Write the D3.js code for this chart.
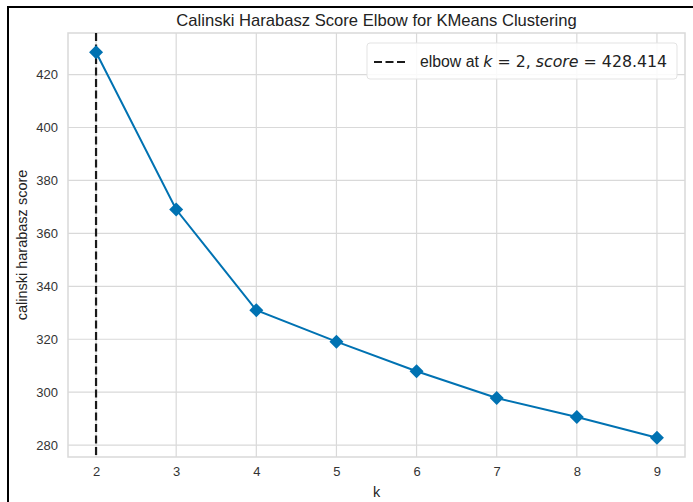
<!DOCTYPE html>
<html>
<head>
<meta charset="utf-8">
<script src="https://cdn.jsdelivr.net/npm/d3@7"></script>
<style>
  html, body { margin: 0; padding: 0; background: #fff; }
  svg { display: block; }
</style>
</head>
<body>
<svg id="chart" width="693" height="502"></svg>
<script>
// Calinski-Harabasz score for each number of clusters k
const kValues = [2, 3, 4, 5, 6, 7, 8, 9];
const scores = [428.414, 369.0, 331.0, 319.1, 307.9, 297.8, 290.6, 282.8];
const xTicks = [2, 3, 4, 5, 6, 7, 8, 9];
const yTicks = [280, 300, 320, 340, 360, 380, 400, 420];
const elbowK = 2;
const elbowScore = 428.414;

const svg = d3.select("#chart");
const W = 693, H = 502;
const plot = { left: 68, right: 685, top: 33, bottom: 457 };

// frame lines along the top and left edge of the figure
svg.append("line").attr("x1", 8).attr("x2", W).attr("y1", 7).attr("y2", 7)
  .attr("stroke", "#000").attr("stroke-width", 2);
svg.append("line").attr("x1", 8).attr("x2", 8).attr("y1", 6).attr("y2", H)
  .attr("stroke", "#000").attr("stroke-width", 2);

// axis domains with 5% padding
const xr = d3.extent(kValues), xpad = (xr[1] - xr[0]) * 0.05;
const yr = d3.extent(scores), ypad = (yr[1] - yr[0]) * 0.05;
const x = d3.scaleLinear().domain([xr[0] - xpad, xr[1] + xpad]).range([plot.left, plot.right]);
const y = d3.scaleLinear().domain([yr[0] - ypad, yr[1] + ypad]).range([plot.bottom, plot.top]);

const gridColor = "#d9d9d9";
const tickFont = "'Liberation Sans', Arial, sans-serif";

// grid
const grid = svg.append("g");
grid.selectAll("line.vx").data(xTicks).join("line")
  .attr("x1", d => x(d)).attr("x2", d => x(d))
  .attr("y1", plot.top).attr("y2", plot.bottom)
  .attr("stroke", gridColor).attr("stroke-width", 1.2);
grid.selectAll("line.hy").data(yTicks).join("line")
  .attr("x1", plot.left).attr("x2", plot.right)
  .attr("y1", d => y(d)).attr("y2", d => y(d))
  .attr("stroke", gridColor).attr("stroke-width", 1.2);

// spines
svg.append("rect")
  .attr("x", plot.left).attr("y", plot.top)
  .attr("width", plot.right - plot.left).attr("height", plot.bottom - plot.top)
  .attr("fill", "none").attr("stroke", gridColor).attr("stroke-width", 1.5);

// axes (labels only, no tick marks)
const xAxis = svg.append("g")
  .attr("transform", `translate(0,${plot.bottom})`)
  .call(d3.axisBottom(x).tickValues(xTicks).tickFormat(d3.format("d")).tickSize(0).tickPadding(10));
const yAxis = svg.append("g")
  .attr("transform", `translate(${plot.left},0)`)
  .call(d3.axisLeft(y).tickValues(yTicks).tickFormat(d3.format("d")).tickSize(0).tickPadding(10));
[xAxis, yAxis].forEach(g => {
  g.select(".domain").remove();
  g.selectAll("text").attr("font-family", tickFont).attr("font-size", 13).attr("fill", "#333");
});

// elbow marker
svg.append("line")
  .attr("x1", x(elbowK)).attr("x2", x(elbowK))
  .attr("y1", plot.top).attr("y2", plot.bottom)
  .attr("stroke", "#1a1a1a").attr("stroke-width", 2.2)
  .attr("stroke-dasharray", "8,3.5");

// score curve
const pts = kValues.map((k, i) => [k, scores[i]]);
svg.append("path")
  .datum(pts)
  .attr("d", d3.line().x(d => x(d[0])).y(d => y(d[1])))
  .attr("fill", "none").attr("stroke", "#0072B2").attr("stroke-width", 2);
svg.selectAll("path.mk").data(pts).join("path")
  .attr("class", "mk")
  .attr("transform", d => `translate(${x(d[0])},${y(d[1])})`)
  .attr("d", "M0,-7L7,0L0,7L-7,0Z")
  .attr("fill", "#0072B2");

// title and axis labels
svg.append("text")
  .attr("x", (plot.left + plot.right) / 2).attr("y", 26)
  .attr("text-anchor", "middle")
  .attr("font-family", tickFont).attr("font-size", 16.6).attr("fill", "#222")
  .text("Calinski Harabasz Score Elbow for KMeans Clustering");
svg.append("text")
  .attr("x", (plot.left + plot.right) / 2).attr("y", 497)
  .attr("text-anchor", "middle")
  .attr("font-family", tickFont).attr("font-size", 14.5).attr("fill", "#222")
  .text("k");
svg.append("text")
  .attr("transform", `translate(27,${(plot.top + plot.bottom) / 2}) rotate(-90)`)
  .attr("text-anchor", "middle")
  .attr("font-family", tickFont).attr("font-size", 14.5).attr("fill", "#222")
  .text("calinski harabasz score");

// legend
const lg = svg.append("g");
lg.append("rect")
  .attr("x", 367).attr("y", 43).attr("width", 310).attr("height", 36).attr("rx", 3)
  .attr("fill", "#fff").attr("fill-opacity", 0.85)
  .attr("stroke", "#e3e3e3").attr("stroke-width", 1);
lg.append("line")
  .attr("x1", 374).attr("x2", 408).attr("y1", 62).attr("y2", 62)
  .attr("stroke", "#1a1a1a").attr("stroke-width", 2.2).attr("stroke-dasharray", "8,3.5");
const lt = lg.append("text")
  .attr("x", 420).attr("y", 67)
  .attr("font-family", tickFont).attr("font-size", 15.8).attr("fill", "#222");
lt.append("tspan").text("elbow at ");
lt.append("tspan").attr("font-family", "'DejaVu Sans'").attr("font-style", "italic").text("k");
lt.append("tspan").attr("font-family", "'DejaVu Sans'").text(` = ${elbowK}, `);
lt.append("tspan").attr("font-family", "'DejaVu Sans'").attr("font-style", "italic").text("score");
lt.append("tspan").attr("font-family", "'DejaVu Sans'").text(` = ${elbowScore}`);
</script>
</body>
</html>
